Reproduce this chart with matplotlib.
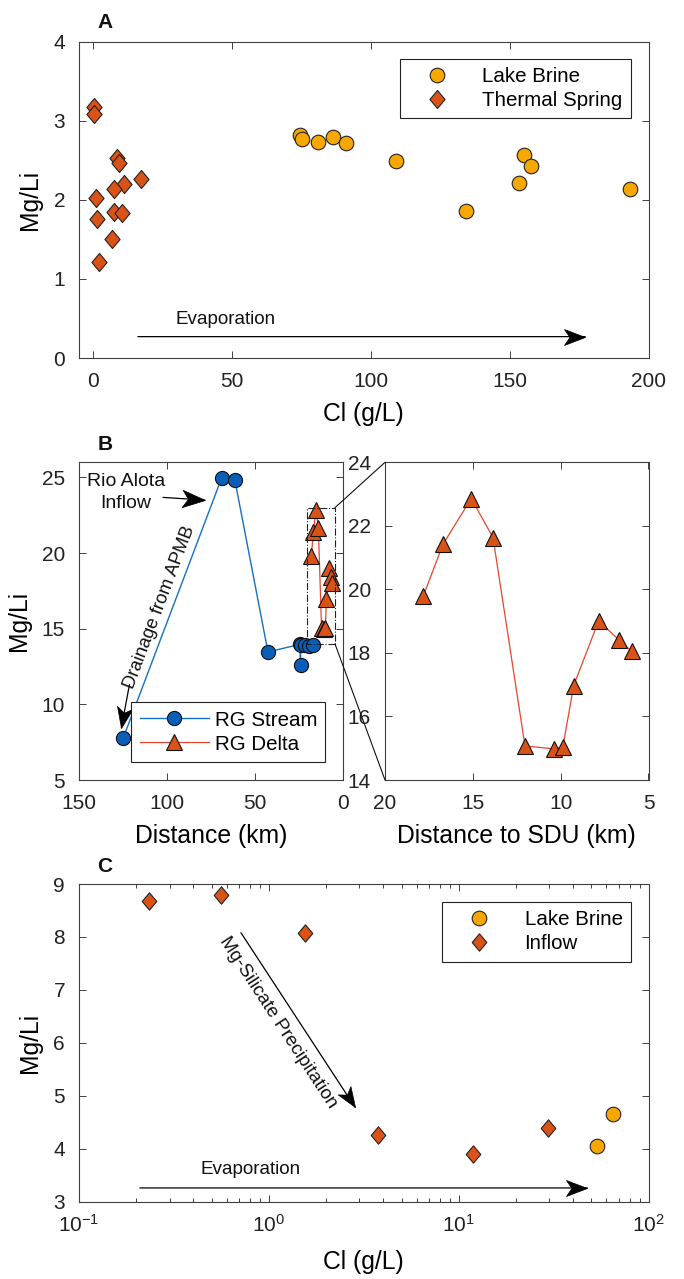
import numpy as np
import matplotlib
matplotlib.use("Agg")
import matplotlib.pyplot as plt
from matplotlib.patches import Rectangle, ConnectionPatch
from matplotlib.path import Path
from matplotlib.markers import MarkerStyle
from matplotlib.transforms import Affine2D

plt.rcParams['font.family'] = ['Liberation Sans', 'DejaVu Sans']
plt.rcParams['mathtext.fontset'] = 'custom'
plt.rcParams['mathtext.rm'] = 'Liberation Sans'
plt.rcParams['mathtext.it'] = 'Liberation Sans:italic'

# ---------------- data ----------------
# Panel A
ts_cl = [0.3, 0.3, 8.5, 9.5, 17.4, 11.1, 7.7, 1.1, 7.5, 10.6, 1.6, 6.9, 2.2]
ts_mgli = [3.17, 3.09, 2.53, 2.46, 2.26, 2.20, 2.13, 2.02, 1.85, 1.83, 1.76, 1.50, 1.21]
lbA_cl = [74.5, 75.3, 81.2, 86.5, 91.2, 109.2, 134.3, 155.1, 157.7, 153.4, 193.4]
lbA_mgli = [2.82, 2.77, 2.73, 2.79, 2.72, 2.49, 1.86, 2.57, 2.43, 2.21, 2.13]

# Panel B
stream_dist = [124.9, 68.8, 61.3, 42.5, 24.3, 24.0, 23.9, 21.5, 19.0, 16.7]
stream_mgli = [7.76, 24.98, 24.80, 13.46, 13.97, 12.60, 13.92, 13.90, 13.88, 13.90]
delta_dist = [17.82, 16.70, 15.09, 13.85, 12.03, 10.37, 9.88, 9.26, 7.84, 6.70, 5.96]
delta_mgli = [19.79, 21.42, 22.86, 21.63, 15.07, 14.98, 15.03, 16.97, 19.01, 18.42, 18.05]

# Panel C
inflow_cl = [0.234, 0.562, 1.56, 3.77, 11.9, 29.7]
inflow_mgli = [8.67, 8.79, 8.08, 4.26, 3.91, 4.40]
lbC_cl = [53.8, 65.4]
lbC_mgli = [4.05, 4.66]

# ---------------- style ----------------
C_ORANGE = '#D95319'
C_YELLOW = '#F6A800'
C_BLUE = '#0A5EB8'
C_BLUELINE = '#1470C4'
C_REDLINE = '#E8452C'
AX_COL = '#404040'
TICK_FS = 15
LABEL_FS = 17.8
LEG_FS = 14.8
ANN_FS = 13.6

diamond = Path([(0, 1), (0.84, 0), (0, -1), (-0.84, 0), (0, 1)],
               [Path.MOVETO, Path.LINETO, Path.LINETO, Path.LINETO, Path.CLOSEPOLY])
head_path = Path([(0, 0), (-1, 0.38), (-0.74, 0), (-1, -0.38), (0, 0)],
                 [Path.MOVETO, Path.LINETO, Path.LINETO, Path.LINETO, Path.CLOSEPOLY])

W, H = 684, 1279
fig = plt.figure(figsize=(W / 100, H / 100), dpi=100)


def box(l, t, r, b):
    return [l / W, 1 - b / H, (r - l) / W, (b - t) / H]


def style_ax(ax):
    for s in ax.spines.values():
        s.set_color(AX_COL)
        s.set_linewidth(0.8)
    ax.tick_params(which='both', direction='in', top=True, right=True,
                   colors=AX_COL, labelcolor='#222222', labelsize=TICK_FS,
                   width=0.7, pad=10)
    ax.tick_params(which='major', length=5)
    ax.tick_params(which='minor', length=3)


def arrow(ax, start, end, head_px=20, lw=0.9):
    """Thin shaft with a concave black head whose tip sits at `end`."""
    ax.annotate('', xy=end, xytext=start,
                arrowprops=dict(arrowstyle='-', color='black', lw=lw,
                                shrinkA=0, shrinkB=0))
    a = ax.transData.transform(start)
    b = ax.transData.transform(end)
    ang = np.degrees(np.arctan2(b[1] - a[1], b[0] - a[0]))
    m = MarkerStyle(head_path, transform=Affine2D().rotate_deg(ang))
    ax.plot([end[0]], [end[1]], ls='none', marker=m, ms=2 * head_px * 0.72,
            mfc='black', mec='black', mew=0.5, zorder=5, clip_on=False)


legend_kw = dict(fontsize=LEG_FS, frameon=True, fancybox=False, framealpha=1,
                 edgecolor='#222222', borderpad=0.4, labelspacing=0.25,
                 borderaxespad=0)

# ---------------- Panel A ----------------
axA = fig.add_axes(box(79, 41.5, 648.5, 358))
style_ax(axA)
axA.plot(lbA_cl, lbA_mgli, 'o', ms=10.5, mfc=C_YELLOW, mec='#222222', mew=0.8,
         ls='none', label='Lake Brine', zorder=3)
axA.plot(ts_cl, ts_mgli, marker=diamond, ms=13, mfc=C_ORANGE, mec='#222222', mew=0.8,
         ls='none', label='Thermal Spring', zorder=3)
axA.set_xlim(-5, 200)
axA.set_ylim(0, 4)
axA.set_xticks([0, 50, 100, 150, 200])
axA.set_yticks([0, 1, 2, 3, 4])
axA.set_xlabel('Cl (g/L)', fontsize=LABEL_FS, labelpad=8)
axA.set_ylabel('Mg/Li', fontsize=LABEL_FS, labelpad=8)
legA = axA.legend(loc='upper right', bbox_to_anchor=(0.969, 0.945), handlelength=2.8,
                  handletextpad=0.8, **legend_kw)
legA.get_frame().set_linewidth(0.8)
arrow(axA, (16.2, 0.27), (177.2, 0.27), head_px=21)
axA.text(47.8, 0.49, 'Evaporation', fontsize=ANN_FS, ha='center', va='center', color='#111111')

# ---------------- Panel B ----------------
axL = fig.add_axes(box(79, 462.3, 342.7, 780))
axR = fig.add_axes(box(385, 462.3, 648.5, 780))
style_ax(axL)
style_ax(axR)

axL.plot(stream_dist, stream_mgli, '-', color=C_BLUELINE, lw=1.0, marker='o', ms=10.2,
         mfc=C_BLUE, mec='#111111', mew=0.8, label='RG Stream', zorder=3)
axL.plot(delta_dist, delta_mgli, '-', color=C_REDLINE, lw=0.9, marker='^', ms=11.5,
         mfc=C_ORANGE, mec='#111111', mew=0.8, label='RG Delta', zorder=3)
axL.set_xlim(150, 0)
axL.set_ylim(5, 26)
axL.set_xticks([150, 100, 50, 0])
axL.set_yticks([5, 10, 15, 20, 25])
axL.set_xlabel('Distance (km)', fontsize=LABEL_FS, labelpad=8)
axL.set_ylabel('Mg/Li', fontsize=LABEL_FS, labelpad=8)
legB = axL.legend(loc='lower right', bbox_to_anchor=(0.934, 0.057), handlelength=3.4,
                  handletextpad=0.25, **legend_kw)
legB.get_frame().set_linewidth(0.8)

axL.add_patch(Rectangle((4.4, 14.0), 20.2 - 4.4, 9.0, fill=False, ls='-.', lw=0.8,
                        ec='#222222', zorder=4))

# annotations in left panel
axL.text(123.4, 24.0, 'Rio Alota\nInflow', fontsize=ANN_FS + 0.4, ha='center', va='center',
         linespacing=1.4, color='#111111')
arrow(axL, (102.2, 23.68), (78.4, 23.5), head_px=23)
arrow(axL, (121.3, 11.3), (125.9, 8.45), head_px=21)
p0 = axL.transData.transform((stream_dist[0], stream_mgli[0]))
p1 = axL.transData.transform((stream_dist[1], stream_mgli[1]))
ang = np.degrees(np.arctan2(p1[1] - p0[1], p1[0] - p0[0]))
axL.text(104.0, 16.4, 'Drainage from APMB', fontsize=ANN_FS - 0.4, rotation=ang,
         rotation_mode='anchor', ha='center', va='center', color='#111111')

axR.plot(delta_dist, delta_mgli, '-', color=C_REDLINE, lw=0.9, marker='^', ms=11.5,
         mfc=C_ORANGE, mec='#111111', mew=0.8, zorder=3)
axR.set_xlim(20, 5)
axR.set_ylim(14, 24)
axR.set_xticks([20, 15, 10, 5])
axR.set_yticks([14, 16, 18, 20, 22, 24])
axR.set_xlabel('Distance to SDU (km)', fontsize=LABEL_FS, labelpad=8)

for yA, yB in [(23.0, 1.0), (14.0, 0.0)]:
    con = ConnectionPatch(xyA=(4.4, yA), coordsA=axL.transData,
                          xyB=(0.0, yB), coordsB=axR.transAxes,
                          color='#111111', lw=0.8)
    fig.add_artist(con)

# ---------------- Panel C ----------------
axC = fig.add_axes(box(79, 884, 648.5, 1201.7))
style_ax(axC)
axC.set_xscale('log')
axC.plot(lbC_cl, lbC_mgli, 'o', ms=10.5, mfc=C_YELLOW, mec='#222222', mew=0.8,
         ls='none', label='Lake Brine', zorder=3)
axC.plot(inflow_cl, inflow_mgli, marker=diamond, ms=12.5, mfc=C_ORANGE, mec='#222222',
         mew=0.8, ls='none', label='Inflow', zorder=3)
axC.set_xlim(0.1, 100)
axC.set_ylim(3, 9)
axC.set_yticks([3, 4, 5, 6, 7, 8, 9])
axC.tick_params(axis='x', which='major', pad=9)
axC.set_xlabel('Cl (g/L)', fontsize=LABEL_FS, labelpad=10)
axC.set_ylabel('Mg/Li', fontsize=LABEL_FS, labelpad=8)
legC = axC.legend(loc='upper right', bbox_to_anchor=(0.969, 0.943), handlelength=2.8,
                  handletextpad=0.8, **legend_kw)
legC.get_frame().set_linewidth(0.8)
arrow(axC, (0.209, 3.26), (47.6, 3.26), head_px=21)
axC.text(0.805, 3.60, 'Evaporation', fontsize=ANN_FS, ha='center', va='center', color='#111111')
m0 = (0.713, 8.08)
m1 = (2.85, 4.78)
arrow(axC, m0, m1, head_px=20)
q0 = axC.transData.transform(m0)
q1 = axC.transData.transform(m1)
angC = np.degrees(np.arctan2(q1[1] - q0[1], q1[0] - q0[0]))
axC.text(1.117, 6.38, 'Mg-Silicate Precipitation', fontsize=ANN_FS, rotation=angC,
         rotation_mode='anchor', ha='center', va='center', color='#111111')

# panel letters
for lab, y in [('A', 22), ('B', 445), ('C', 866)]:
    fig.text(105 / W, 1 - y / H, lab, fontsize=15, fontweight='bold', ha='center',
             va='center', color='#111111')

fig.savefig('out.png', dpi=100)
